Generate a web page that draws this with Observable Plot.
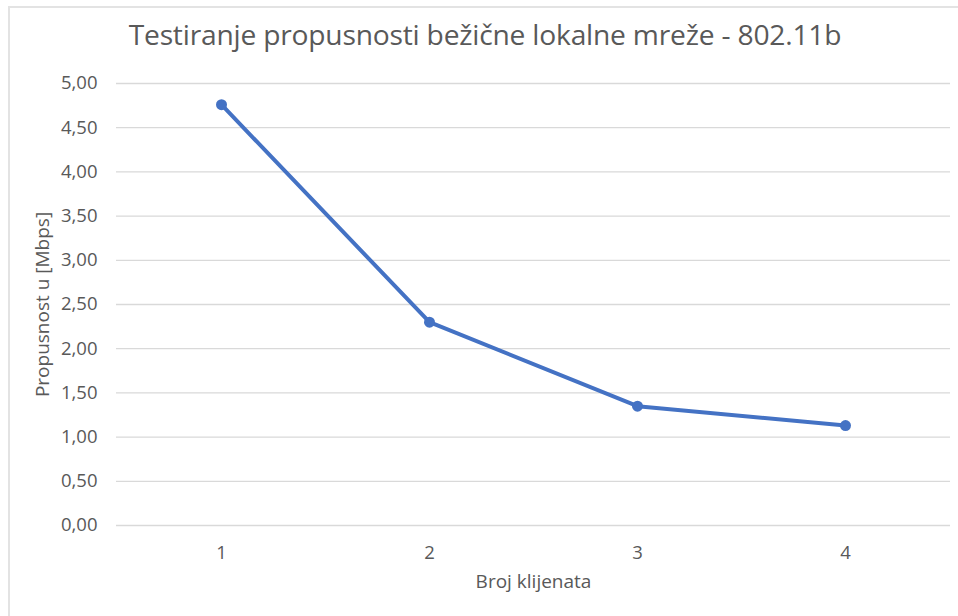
<!DOCTYPE html>
<html>
<head>
<meta charset="utf-8">
<script src="https://cdn.jsdelivr.net/npm/d3@7"></script>
<script src="https://cdn.jsdelivr.net/npm/@observablehq/plot@0.6"></script>
<style>
  html, body { margin: 0; padding: 0; background: #fff; }
  #wrap { position: relative; width: 958px; height: 616px; overflow: hidden; font-family: "Open Sans", sans-serif; }
  #frame { position: absolute; left: 8px; top: 6px; width: 960px; height: 620px; border-left: 2px solid #e3e3e3; border-top: 2px solid #e3e3e3; box-sizing: border-box; }
  #title { position: absolute; left: 0; width: 970px; top: 15px; text-align: center; font-size: 28.2px; font-weight: 400; color: #595959; white-space: nowrap; letter-spacing: -0.2px; }
  #chart { position: absolute; left: 0; top: 0; }
</style>
</head>
<body>
<div id="wrap">
  <div id="frame"></div>
  <div id="chart"></div>
  <div id="title">Testiranje propusnosti bežične lokalne mreže - 802.11b</div>
</div>
<script>
const titleText = "Testiranje propusnosti bežične lokalne mreže - 802.11b";
const xTitle = "Broj klijenata";
const yTitle = "Propusnost u [Mbps]";
const clients = ["1", "2", "3", "4"];
const throughput = [4.76, 2.30, 1.35, 1.13];
const yTicks = [0, 0.5, 1, 1.5, 2, 2.5, 3, 3.5, 4, 4.5, 5];

const data = clients.map((c, i) => ({client: c, value: throughput[i]}));
const fmt = v => v.toFixed(2).replace(".", ",");

const plot = Plot.plot({
  width: 958,
  height: 616,
  marginTop: 83,
  marginBottom: 91,
  marginLeft: 116,
  marginRight: 8,
  style: {fontFamily: "Open Sans, sans-serif", fontSize: "18px", color: "#595959", background: "transparent"},
  x: {type: "point", domain: clients, padding: 0.5, label: null},
  y: {domain: [0, 5], label: null},
  marks: [
    Plot.gridY(yTicks, {stroke: "#d9d9d9", strokeOpacity: 1, strokeWidth: 1.3}),
    Plot.axisY(yTicks, {tickSize: 0, tickPadding: 19, tickFormat: fmt, label: null, fontSize: 18.5, fill: "#595959"}),
    Plot.axisX(clients, {tickSize: 0, tickPadding: 20, label: null, fontSize: 18.5, fill: "#595959"}),
    Plot.line(data, {x: "client", y: "value", stroke: "#4472C4", strokeWidth: 4, strokeLinejoin: "round", strokeLinecap: "round"}),
    Plot.dot(data, {x: "client", y: "value", fill: "#4472C4", r: 5.5}),
    Plot.text([yTitle], {frameAnchor: "left", textAnchor: "middle", rotate: -90, dx: -74, fontSize: 19, fill: "#595959"}),
    Plot.text([xTitle], {frameAnchor: "bottom", dy: 62, fontSize: 19, fill: "#595959"})
  ]
});
document.getElementById("chart").appendChild(plot);
</script>
</body>
</html>
